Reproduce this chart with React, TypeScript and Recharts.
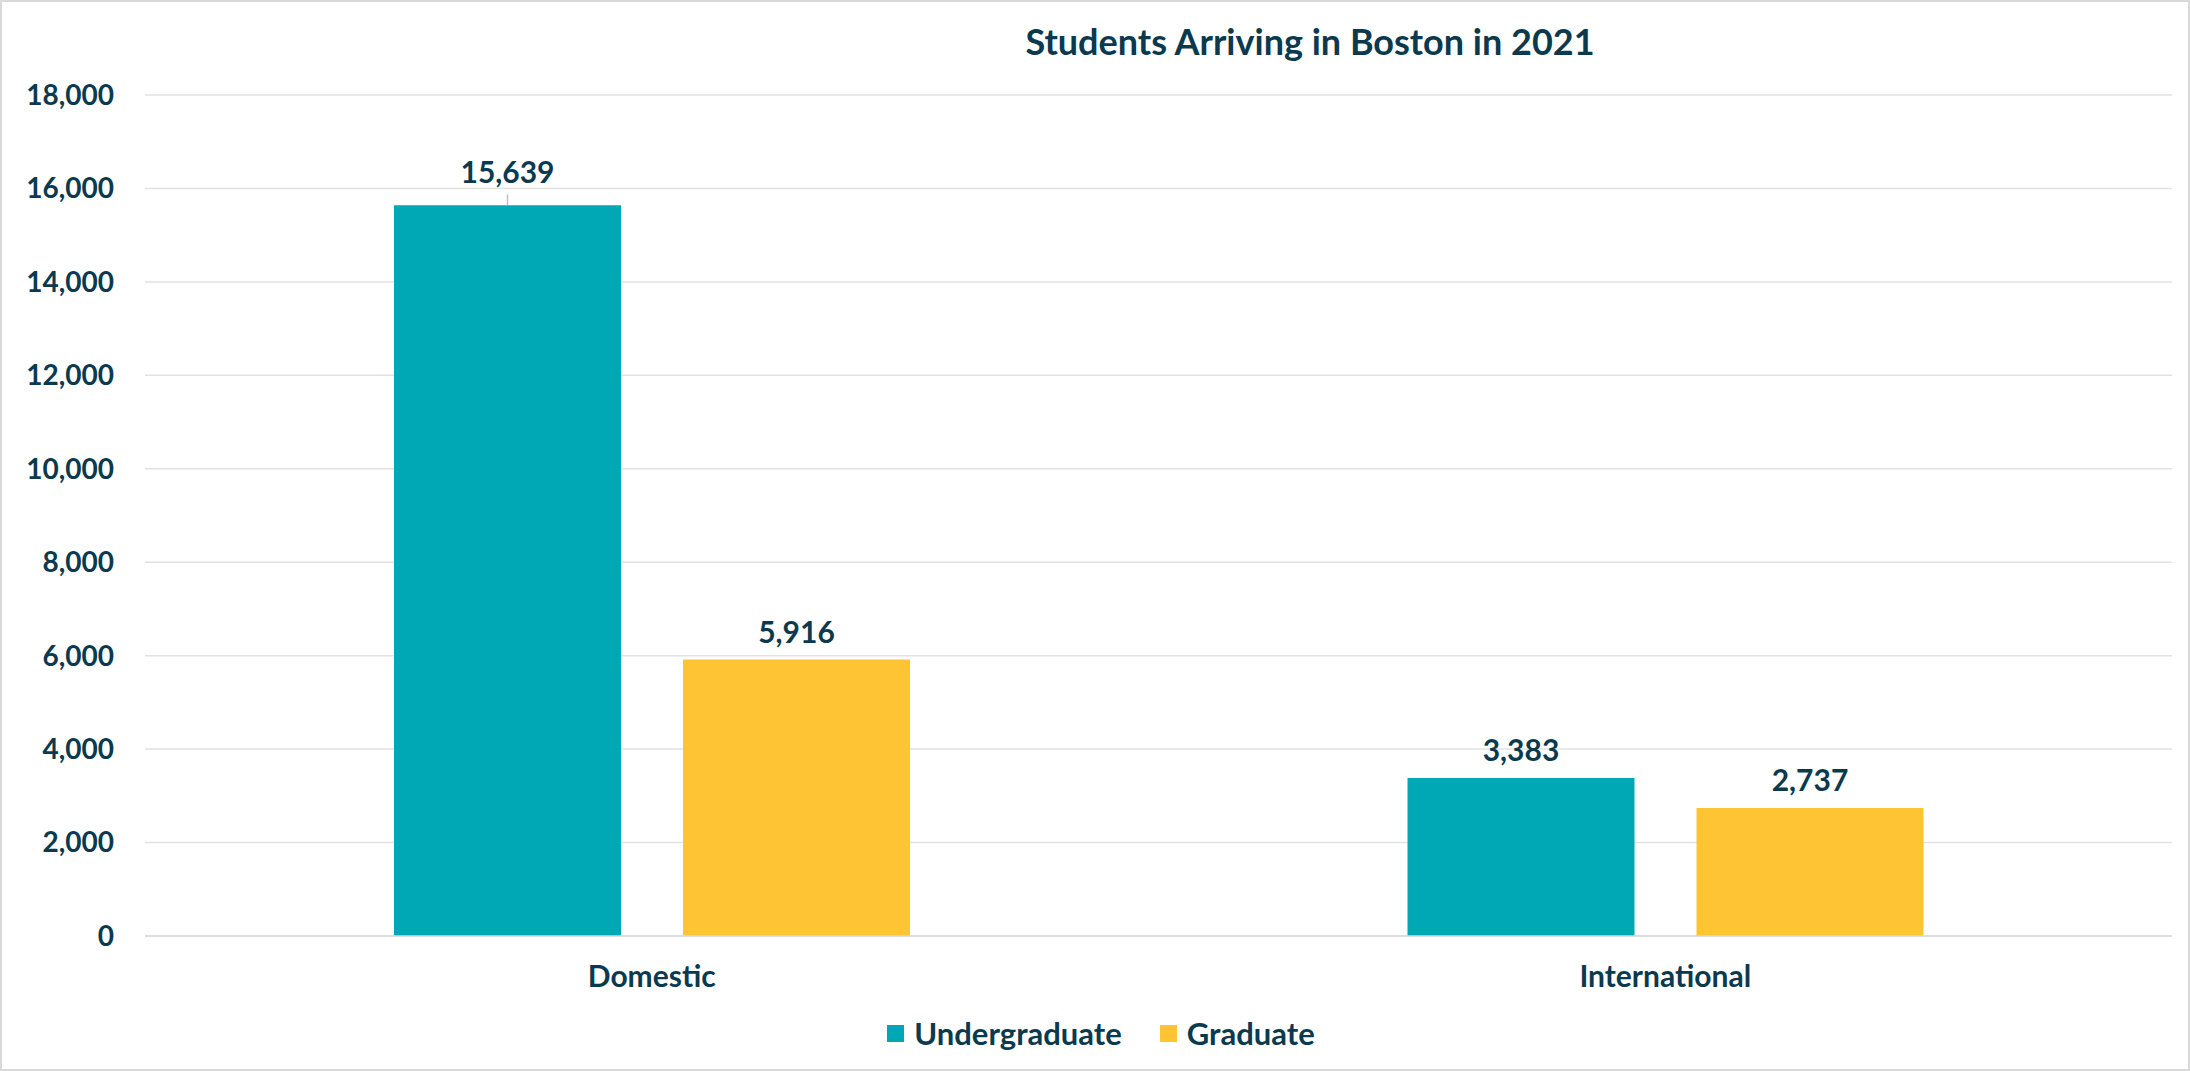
import React from 'react';
import { BarChart, Bar, XAxis, YAxis, CartesianGrid, Legend, LabelList, Customized } from 'recharts';

const categories = ['Domestic', 'International'];
const undergraduate = [15639, 3383];
const graduate = [5916, 2737];
const yTicks = [0, 2000, 4000, 6000, 8000, 10000, 12000, 14000, 16000, 18000];
const seriesNames = ['Undergraduate', 'Graduate'];
const chartTitle = 'Students Arriving in Boston in 2021';

const data = categories.map((c, i) => ({
  category: c,
  undergraduate: undergraduate[i],
  graduate: graduate[i],
}));

const TEXT = '#0b3a4e';
const TEAL = '#00a7b4';
const GOLD = '#ffc433';
const GRID = '#e2e2e2';
const FONT = 'Lato, "Open Sans", sans-serif';

const fmt = (v: number) => v.toLocaleString('en-US');

const makeLabel = (raisedIndex: number | null) => (props: any) => {
  const { x, y, width, value, index } = props;
  const cx = Number(x) + Number(width) / 2;
  const top = Number(y);
  const raised = index === raisedIndex;
  const baseline = top - (raised ? 22 : 17);
  return (
    <g>
      {raised && (
        <line x1={cx} x2={cx} y1={top - 11} y2={top} stroke="#bfbfbf" strokeWidth={1.5} />
      )}
      <text
        x={cx}
        y={baseline}
        textAnchor="middle"
        fill={TEXT}
        fontFamily={FONT}
        fontWeight={700}
        fontSize={30}
      >
        {fmt(Number(value))}
      </text>
    </g>
  );
};

const LegendContent = () => {
  const colors = [TEAL, GOLD];
  return (
    <div
      style={{
        display: 'flex',
        justifyContent: 'center',
        alignItems: 'center',
        height: 50,
        paddingLeft: 30,
        fontFamily: FONT,
        fontWeight: 700,
        fontSize: 31,
        color: TEXT,
      }}
    >
      {seriesNames.map((n, i) => (
        <div key={n} style={{ display: 'flex', alignItems: 'center', marginRight: i === 0 ? 38 : 0 }}>
          <span style={{ width: 17, height: 17, background: colors[i], display: 'inline-block', marginRight: 10 }} />
          <span>{n}</span>
        </div>
      ))}
    </div>
  );
};

const Title = () => (
  <text
    x={1310}
    y={55}
    textAnchor="middle"
    fill={TEXT}
    fontFamily={FONT}
    fontWeight={700}
    fontSize={36}
  >
    {chartTitle}
  </text>
);

export default function App() {
  return (
    <div style={{ position: 'absolute', left: 0, top: 0, width: 2190, height: 1071, background: '#fff', fontFamily: FONT }}>
      <BarChart
        width={2190}
        height={1071}
        data={data}
        margin={{ top: 95, right: 18, left: 0, bottom: 13 }}
        barGap={62}
        barSize={227}
      >
        <CartesianGrid vertical={false} stroke={GRID} strokeWidth={1.5} />
        <XAxis
          dataKey="category"
          height={72}
          axisLine={{ stroke: '#d9d9d9', strokeWidth: 1.5 }}
          tickLine={false}
          tickSize={0}
          tickMargin={30}
          tick={{ fill: TEXT, fontFamily: FONT, fontWeight: 700, fontSize: 30 }}
        />
        <YAxis
          width={145}
          domain={[0, 18000]}
          ticks={yTicks}
          axisLine={false}
          tickLine={false}
          tickSize={0}
          tickMargin={31}
          tickFormatter={(v: number) => fmt(v)}
          tick={{ fill: TEXT, fontFamily: FONT, fontWeight: 700, fontSize: 28 }}
        />
        <Legend verticalAlign="bottom" height={50} content={LegendContent} />
        <Bar dataKey="undergraduate" name={seriesNames[0]} fill={TEAL} isAnimationActive={false}>
          <LabelList dataKey="undergraduate" content={makeLabel(0)} />
        </Bar>
        <Bar dataKey="graduate" name={seriesNames[1]} fill={GOLD} isAnimationActive={false}>
          <LabelList dataKey="graduate" content={makeLabel(null)} />
        </Bar>
        <Customized component={Title} />
      </BarChart>
      <div
        style={{
          position: 'absolute',
          left: 0,
          top: 0,
          width: 2190,
          height: 1071,
          boxSizing: 'border-box',
          border: '2px solid #d9d9d9',
          pointerEvents: 'none',
        }}
      />
    </div>
  );
}
